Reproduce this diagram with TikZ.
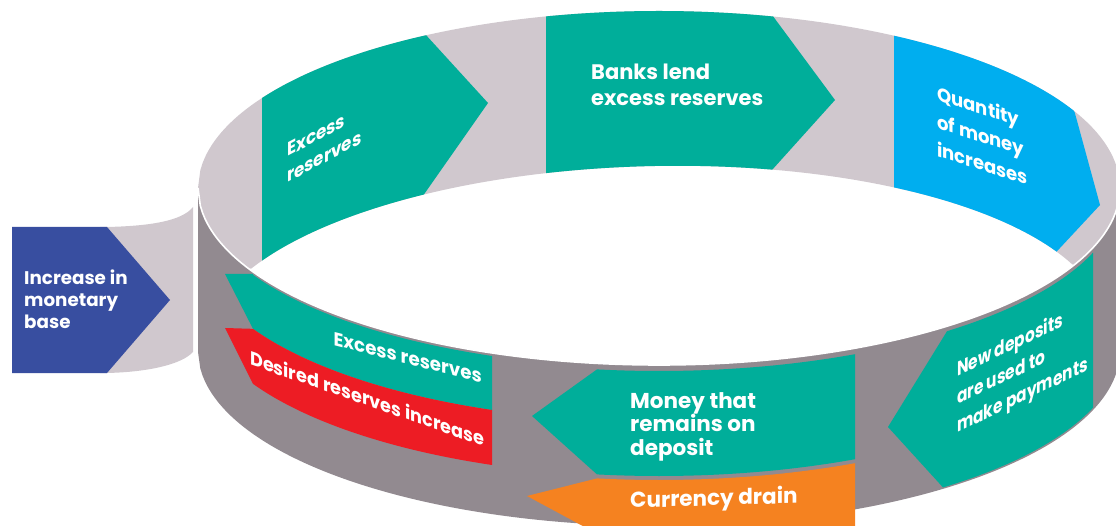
\documentclass[tikz,border=0pt]{standalone}
\usepackage{fontspec}
\setmainfont{Poppins}
\definecolor{cteal}{RGB}{0,174,154}
\definecolor{cband}{RGB}{208,200,206}
\definecolor{cwall}{RGB}{146,138,144}
\definecolor{cnavy}{RGB}{56,78,160}
\definecolor{csky}{RGB}{0,174,239}
\definecolor{cred}{RGB}{237,28,36}
\definecolor{corange}{RGB}{245,130,32}
\newcommand{\mylines}[1]{\begin{tabular}[t]{@{}l@{}}#1\end{tabular}}
\begin{document}
\begin{tikzpicture}[x=1pt,y=-1pt,
  declare function={
    ef(\x)=sqrt(max(0,1-((\x-659)/461)^2));
    ei(\x)=sqrt(max(0,1-((\x-655)/450)^2));
    tb(\x)=188-177*ef(\x);
    tf(\x)=188+177*ef(\x);
    bf(\x)=351+175*ef(\x);
    ib(\x)=336-170*ei(\x)-0.019*(\x-655);
    lb(\x)=min(ib(\x),tf(\x));
  },
  lbl/.style={text=white, inner sep=0pt, anchor=base west},
  fs/.style 2 args={font=\bfseries\fontsize{#1}{#2}\selectfont}]
\useasboundingbox (0,0) rectangle (1116,526);
\clip (0,0) rectangle (1116,526);
% front wall
\fill[cwall] plot[domain=198:1120,samples=400] (\x,{tf(\x)}) -- plot[domain=1120:198,samples=400] (\x,{bf(\x)}) -- cycle;
% back band (inside of the back wall)
\fill[cband] plot[domain=198:1120,samples=400] (\x,{tb(\x)}) -- plot[domain=1120:198,samples=400] (\x,{lb(\x)}) -- cycle;
% tab and the monetary base arrow
\fill[cband] (100,227) -- (107,227) .. controls (150,226) and (182,221) .. (193,207) -- (193,352) .. controls (182,364) and (150,372) .. (107,373) -- (100,373) -- cycle;
\fill[cnavy] (12,227) -- (107,227) -- (170,300) -- (107,373) -- (12,373) -- cycle;
% back arrows
\begin{scope}
\clip plot[domain=198:1120,samples=400] (\x,{tb(\x)}) -- plot[domain=1120:198,samples=400] (\x,{lb(\x)}) -- cycle;
\fill[cteal] (262,0) -- (394,0) -- (488,103) -- (350,300) -- (262,300) -- cycle;
\fill[cteal] (546,0) -- (761,0) -- (835,100) -- (745,200) -- (546,200) -- cycle;
\fill[csky] (894,0) -- (1044,0) -- (1100,205) -- (993,320) -- (894,320) -- cycle;
\end{scope}
% rim highlight
\draw[white, line width=1.6pt] plot[domain=198:1120,samples=400] (\x,{tf(\x)});
% front arrows
\fill[cteal] (225,274) -- (253,274) -- plot[domain=253:492,samples=80] (\x,{tf(\x)+3}) -- (492,{tf(492)+57}) -- plot[domain=492:253,samples=80] (\x,{tf(\x)+57}) -- cycle;
\fill[cred] (225,328) -- (253,{tf(253)+57}) -- plot[domain=253:492,samples=80] (\x,{tf(\x)+57}) -- (492,{tf(492)+112}) -- plot[domain=492:253,samples=80] (\x,{tf(\x)+112}) -- cycle;
\fill[cteal] (532,416) -- (597,{tf(597)+6}) -- plot[domain=597:855,samples=80] (\x,{tf(\x)+6}) -- (855,{tf(855)+111}) -- plot[domain=855:597,samples=80] (\x,{tf(\x)+111}) -- cycle;
\fill[corange] (527,496) -- (597,{tf(597)+115}) -- plot[domain=597:855,samples=80] (\x,{tf(\x)+115}) -- (855,545) -- (618,545) -- cycle;
\fill[cteal] (888,427) -- (947,{tf(947)+5}) -- plot[domain=947:1093,samples=80] (\x,{tf(\x)+5}) -- (1093,{tf(1093)+160}) -- plot[domain=1093:943,samples=80] (\x,{tf(\x)+160}) -- cycle;
% labels
\node[lbl, fs={18.3}{22}] (tbase) at (24,285) {\mylines{Increase in\\monetary\\base}};
\node[lbl, fs={19}{26}, yslant=0.53, xscale=0.88] (texb) at (287,157) {\mylines{Excess\\reserves}};
\node[lbl, fs={21}{26}] (tbanks) at (591,80) {\mylines{Banks lend\\excess reserves}};
\node[lbl, fs={19}{28}, yslant=-0.32, xscale=0.95] (tqty) at (937,100) {\mylines{Quantity\\of money\\increases}};
\node[lbl, fs={20}{28}, yslant=0.477, xscale=0.77] (tnew) at (957,377) {\mylines{New deposits\\are used to\\make payments}};
\node[text=white, inner sep=0pt, anchor=base east, fs={19}{19}, yslant=-0.258, xscale=0.96] (texf) at (482,383.4) {Excess reserves};
\node[lbl, fs={19}{19}, yslant=-0.349, xscale=0.93] (tdes) at (250,364.7) {Desired reserves increase};
\node[lbl, fs={21.5}{22}] (tmoney) at (630,408) {\mylines{Money that\\remains on\\deposit}};
\node[lbl, fs={21.5}{22}, yslant=0.03] (tcur) at (630,508) {Currency drain};
\end{tikzpicture}
\end{document}
